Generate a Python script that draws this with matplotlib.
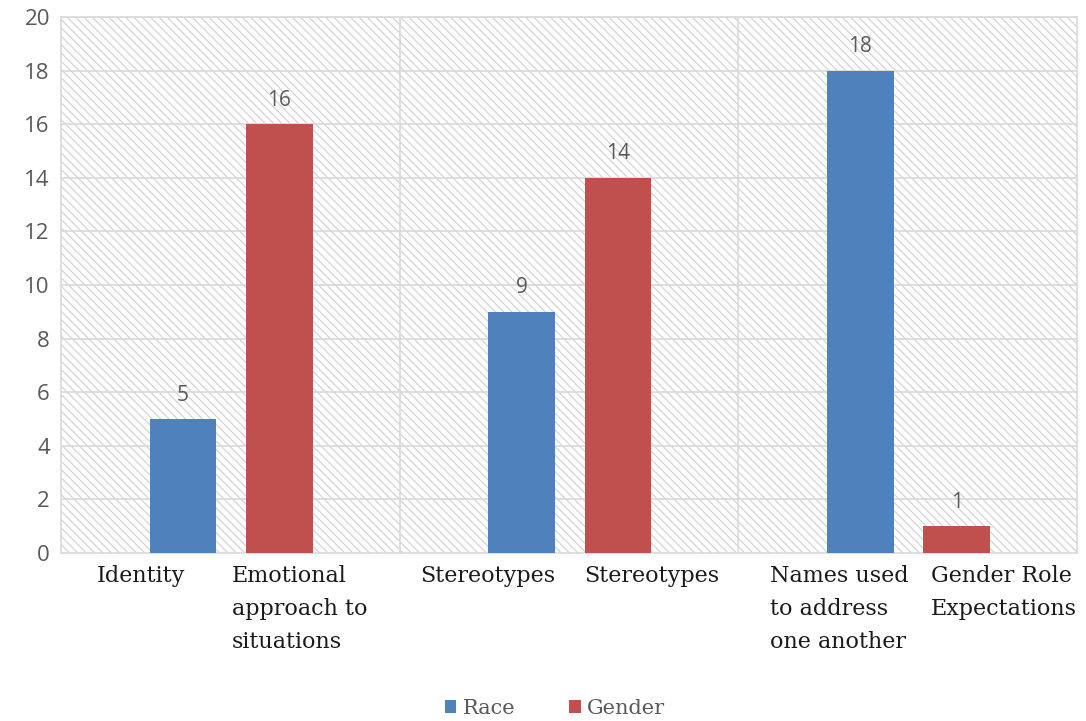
import matplotlib.pyplot as plt
from matplotlib.patches import Rectangle
import numpy as np

# Data
groups = [0, 1, 2]
race_labels = ["Identity", "Stereotypes", "Names used\nto address\none another"]
gender_labels = ["Emotional\napproach to\nsituations", "Stereotypes", "Gender Role\nExpectations"]
race_counts = [5, 9, 18]
gender_counts = [16, 14, 1]

race_color = "#4f81bd"
gender_color = "#c0504d"
grid_color = "#d9d9d9"
text_gray = "#595959"

plt.rcParams["hatch.linewidth"] = 0.8

fig = plt.figure(figsize=(10.86, 7.21), dpi=100)
ax = fig.add_axes([0.0562, 0.233, 0.9355, 0.7434])

# hatched plot background
ax.add_patch(Rectangle((0, 0), 1, 1, transform=ax.transAxes, facecolor="white",
                       edgecolor="#d0d0d0", linewidth=0, hatch="\\\\\\\\", zorder=0))

x = np.array(groups, dtype=float)
width = 0.197
ax.bar(x + 0.36, race_counts, width, color=race_color, zorder=3, label="Race")
ax.bar(x + 0.645, gender_counts, width, color=gender_color, zorder=3, label="Gender")

# value labels above bars
for xi, v in zip(x + 0.36, race_counts):
    ax.text(xi, v + 0.5, str(v), ha="center", va="bottom", fontsize=15,
            color=text_gray, family="Open Sans", zorder=4)
for xi, v in zip(x + 0.645, gender_counts):
    ax.text(xi, v + 0.5, str(v), ha="center", va="bottom", fontsize=15,
            color=text_gray, family="Open Sans", zorder=4)

ax.set_xlim(0, 3)
ax.set_ylim(0, 20)
ax.set_yticks(range(0, 21, 2))
ax.set_xticks([])
ax.tick_params(axis="y", length=0, pad=8, labelsize=16, labelcolor=text_gray)
for lab in ax.get_yticklabels():
    lab.set_family("Open Sans")

# gridlines and group separators
for yv in range(2, 21, 2):
    ax.axhline(yv, color=grid_color, lw=1.2, zorder=1)
for xv in [1, 2]:
    ax.axvline(xv, color=grid_color, lw=1.2, zorder=1)
for s in ax.spines.values():
    s.set_color(grid_color)
    s.set_linewidth(1.2)

# category labels under each bar
label_x = [0.106, 0.504, 1.059, 1.546, 2.094, 2.569]
labels = [race_labels[0], gender_labels[0], race_labels[1], gender_labels[1],
          race_labels[2], gender_labels[2]]
for lx, txt in zip(label_x, labels):
    ax.text(lx, -0.45, txt, ha="left", va="top", fontsize=16, color="#1a1a1a",
            family="DejaVu Serif", linespacing=1.65, clip_on=False)

leg = fig.legend(loc="lower center", bbox_to_anchor=(0.511, -0.022), ncol=2,
                 frameon=False, handlelength=0.55, handleheight=0.55,
                 handletextpad=0.3, columnspacing=2.6,
                 prop={"family": "DejaVu Serif", "size": 15})
for t in leg.get_texts():
    t.set_color(text_gray)

plt.savefig("out.png", dpi=100)
plt.close()
